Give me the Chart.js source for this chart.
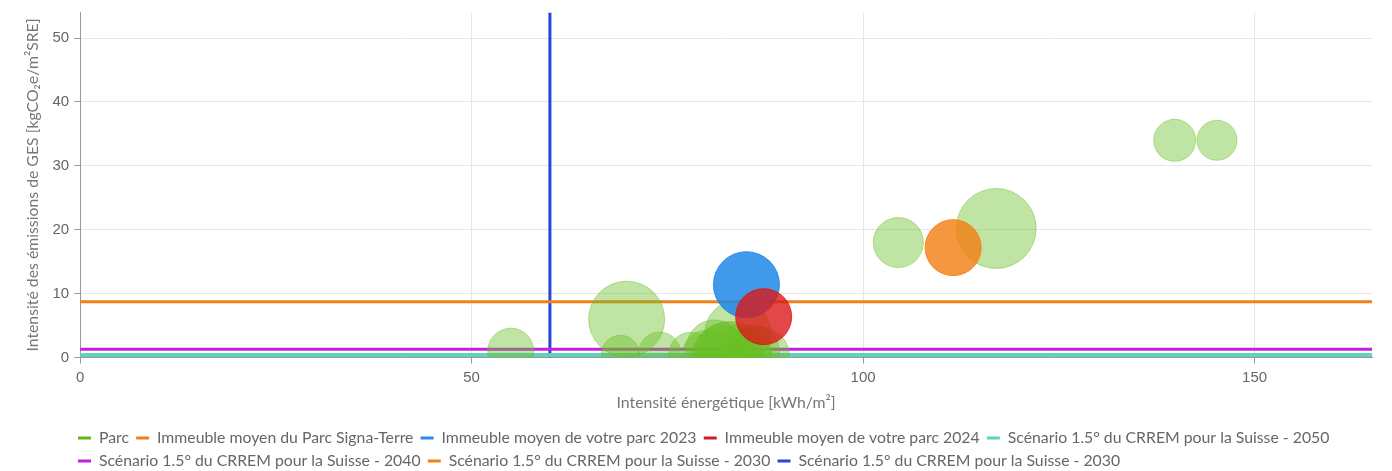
<!DOCTYPE html>
<html>
<head>
<meta charset="utf-8">
<script src="https://cdn.jsdelivr.net/npm/chart.js@4/dist/chart.umd.min.js"></script>
<style>
  html,body{margin:0;padding:0;background:#fff;}
  #wrap{width:1392px;height:471px;position:relative;}
</style>
</head>
<body>
<div id="wrap"><canvas id="c"></canvas></div>
<script>
// Parc bubbles: energy intensity, GHG intensity, bubble radius
const parcX = [55, 69.8, 69, 74, 78, 80, 81, 82, 82.5, 83, 84, 84.5, 85, 86, 87, 104.5, 117, 139.8, 145.2];
const parcY = [1, 6, 0.5, 0.7, 0.5, 0.5, 1.5, 0.3, 0.5, 0.5, 3.8, 0.5, 0.3, 1, 0.3, 18, 20.2, 34, 34];
const parcR = [23, 38, 19, 21, 22, 24, 28, 30, 32, 33, 33, 30, 25, 26, 28, 25, 40, 21, 20];

// average buildings [x, y, r]
const signaTerre = [111.5, 17.2, 28];
const parc2023 = [85.1, 11.4, 33];
const parc2024 = [87.3, 6.4, 28];

// CRREM 1.5° thresholds
const crrem2050 = 0.4;
const crrem2040 = 1.3;
const crrem2030Ghg = 8.75;
const crrem2030Energy = 60;

const xMax = 165, yMax = 54;

const labels = ["Parc", "Immeuble moyen du Parc Signa-Terre", "Immeuble moyen de votre parc 2023",
  "Immeuble moyen de votre parc 2024", "Scénario 1.5° du CRREM pour la Suisse - 2050",
  "Scénario 1.5° du CRREM pour la Suisse - 2040", "Scénario 1.5° du CRREM pour la Suisse - 2030",
  "Scénario 1.5° du CRREM pour la Suisse - 2030"];
const legendColors = ["#63b91c", "#f0801a", "#2a8be6", "#d41c1c", "#5ed3c2", "#c41ee0", "#f0801a", "#2447d6"];

const pt = a => [{x:a[0], y:a[1], r:a[2]}];
const hline = (y) => [{x:0, y:y}, {x:xMax, y:y}];

const lineDs = (i, data, w) => ({type:"line", label:labels[i], data, borderColor:legendColors[i],
  borderWidth:w, pointRadius:0, pointHoverRadius:0, fill:false, clip:0, order:5});

const FS = 15.8;

new Chart(document.getElementById("c"), {
  type: "bubble",
  data: {datasets: [
    {label:labels[0], data:parcX.map((x,i)=>({x, y:parcY[i], r:parcR[i]})),
      backgroundColor:"rgba(105,190,35,0.42)", borderColor:"rgba(105,190,35,0.45)", borderWidth:1, clip:0, order:2},
    {label:labels[1], data:pt(signaTerre), backgroundColor:"rgba(242,128,20,0.82)", borderColor:"rgba(242,128,20,0.9)", borderWidth:1, clip:0, order:1},
    {label:labels[2], data:pt(parc2023), backgroundColor:"rgba(30,135,230,0.85)", borderColor:"rgba(30,135,230,0.9)", borderWidth:1, clip:0, order:1},
    {label:labels[3], data:pt(parc2024), backgroundColor:"rgba(220,25,25,0.8)", borderColor:"rgba(220,25,25,0.85)", borderWidth:1, clip:0, order:0},
    lineDs(4, hline(crrem2050), 4),
    lineDs(5, hline(crrem2040), 3),
    lineDs(6, hline(crrem2030Ghg), 3),
    lineDs(7, [{x:crrem2030Energy, y:0}, {x:crrem2030Energy, y:yMax}], 3),
  ]},
  options: {
    responsive:true, maintainAspectRatio:false, animation:false,
    layout:{autoPadding:false, padding:{top:9, right:20, left:16, bottom:0}},
    scales:{
      x:{type:"linear", min:0, max:xMax,
        ticks:{stepSize:50, includeBounds:false, color:"#666", padding:5, font:{family:"Liberation Sans", size:15}},
        grid:{color:"#e6e6e6", tickLength:6, tickColor:"#999"},
        border:{color:"#999"},
        title:{display:true, text:"Intensité énergétique [kWh/m²]", color:"#777", padding:{top:1.5, bottom:3},
          font:{family:"Lato", size:FS}}},
      y:{type:"linear", min:0, max:yMax,
        ticks:{stepSize:10, includeBounds:false, color:"#666", padding:5, font:{family:"Liberation Sans", size:15, lineHeight:1}},
        grid:{color:"#e6e6e6", tickLength:6, tickColor:"#999"},
        border:{color:"#999"},
        title:{display:true, text:"Intensité des émissions de GES [kgCO₂e/m²SRE]", color:"#777", padding:{top:7.5, bottom:5},
          font:{family:"Lato", size:FS}}}
    },
    plugins:{
      tooltip:{enabled:false},
      legend:{position:"bottom", align:"start",
        labels:{boxWidth:13, boxHeight:3, padding:7.2, color:"#666", font:{family:"Lato", size:FS},
          sort:(a,b)=>a.datasetIndex-b.datasetIndex,
          generateLabels:c=>Chart.defaults.plugins.legend.labels.generateLabels(c).map(l=>({...l,
            fillStyle:legendColors[l.datasetIndex], strokeStyle:legendColors[l.datasetIndex], lineWidth:0}))}}
    }
  },
  plugins:[{id:"legendShift", afterLayout(chart){
    const lg = chart.legend;
    const dx = 78 - (lg.left + lg.options.labels.padding);
    lg.left += dx; lg.right += dx; lg.top += 8; lg.bottom += 8;
  }}]
});
</script>
</body>
</html>
